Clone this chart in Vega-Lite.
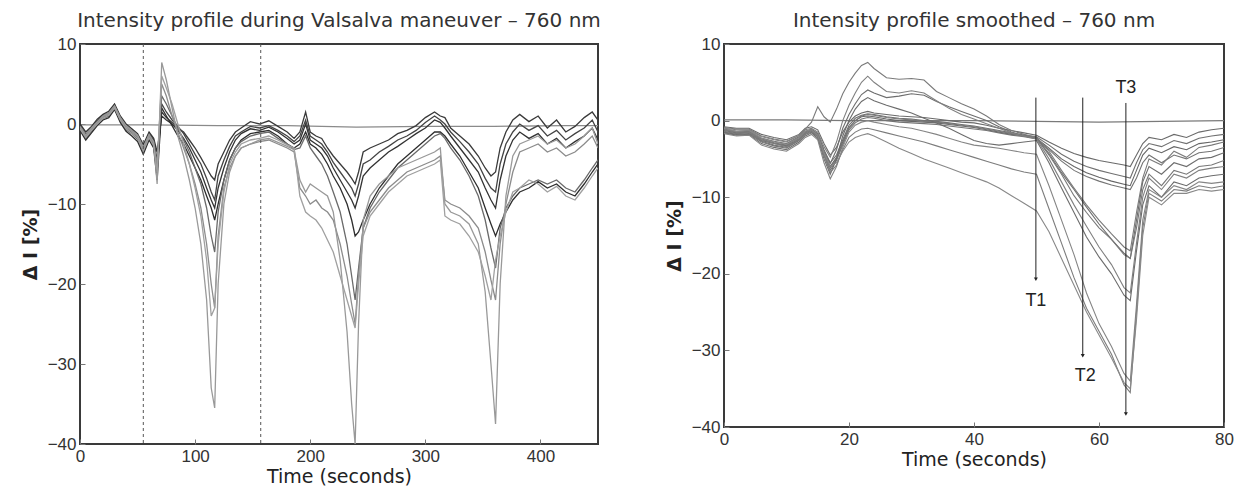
{
"$schema":"https://vega.github.io/schema/vega-lite/v6.json",
"background":"white",
"padding":{"left":20,"top":10,"right":5,"bottom":3},
"spacing":62,
"config":{
"view":{"stroke":"#3a3a3a","strokeWidth":2},
"axis":{"domain":false,"grid":false,"labelFont":"Liberation Sans","labelFontSize":17,"labelColor":"#333","titleFont":"DejaVu Sans","titleFontSize":19,"titleFontWeight":"normal","titleColor":"#222","tickColor":"#777","tickSize":-5,"labelPadding":9,"labelFlush":false,"labelOverlap":false},
"title":{"font":"DejaVu Sans","fontSize":20,"fontWeight":"normal","color":"#333","offset":4}
},
"resolve":{"scale":{"color":"independent","x":"independent","y":"independent"}},
"datasets":{
"D":[{"t":55},{"t":157}],
"Tl":[{"lab":"T1","t":49.9,"v":3,"v2":-20.7},{"lab":"T2","t":57.4,"v":3,"v2":-30.7},{"lab":"T3","t":64.3,"v":2.3,"v2":-38.3}],
"Ta":[{"t":49.9,"v":-20.7},{"t":57.4,"v":-30.7},{"t":64.3,"v":-38.3}],
"Tt":[{"lab":"T1","t":49.9,"v":-23.6},{"lab":"T2","t":57.8,"v":-33.4},{"lab":"T3","t":64.3,"v":4.2}],
"L":[
{"s":"z","t":0,"v":-0.1},{"s":"z","t":60,"v":-0.1},{"s":"z","t":120,"v":-0.2},{"s":"z","t":180,"v":-0.2},{"s":"z","t":240,"v":-0.4},{"s":"z","t":300,"v":-0.3},{"s":"z","t":360,"v":-0.3},{"s":"z","t":420,"v":-0.2},{"s":"z","t":450,"v":-0.2},
{"s":"a","t":0,"v":-0.2},{"s":"a","t":5,"v":-1.3},{"s":"a","t":10,"v":-0.5},{"s":"a","t":15,"v":0.4},{"s":"a","t":20,"v":1.0},{"s":"a","t":25,"v":1.4},{"s":"a","t":30,"v":2.4},{"s":"a","t":35,"v":0.8},{"s":"a","t":40,"v":-0.2},{"s":"a","t":45,"v":-0.8},{"s":"a","t":50,"v":-1.4},{"s":"a","t":55,"v":-2.8},{"s":"a","t":60,"v":-1.2},{"s":"a","t":64,"v":-2.0},{"s":"a","t":67,"v":-4.5},{"s":"a","t":71,"v":1.5},{"s":"a","t":75,"v":0.8},{"s":"a","t":80,"v":0.2},{"s":"a","t":85,"v":-0.5},{"s":"a","t":90,"v":-1.0},{"s":"a","t":95,"v":-2.0},{"s":"a","t":100,"v":-3.0},{"s":"a","t":105,"v":-4.2},{"s":"a","t":110,"v":-5.5},{"s":"a","t":114,"v":-6.5},{"s":"a","t":117,"v":-7.0},{"s":"a","t":120,"v":-5.0},{"s":"a","t":125,"v":-3.5},{"s":"a","t":130,"v":-2.0},{"s":"a","t":135,"v":-1.0},{"s":"a","t":140,"v":-0.5},{"s":"a","t":148,"v":0.3},{"s":"a","t":156,"v":0.0},{"s":"a","t":164,"v":0.4},{"s":"a","t":172,"v":-0.3},{"s":"a","t":180,"v":-1.0},{"s":"a","t":186,"v":-1.8},{"s":"a","t":191,"v":-1.0},{"s":"a","t":196,"v":1.5},{"s":"a","t":200,"v":-1.0},{"s":"a","t":205,"v":-1.5},{"s":"a","t":210,"v":-1.8},{"s":"a","t":215,"v":-3.0},{"s":"a","t":220,"v":-4.0},{"s":"a","t":226,"v":-5.0},{"s":"a","t":232,"v":-6.0},{"s":"a","t":236,"v":-6.8},{"s":"a","t":239,"v":-7.5},{"s":"a","t":242,"v":-6.0},{"s":"a","t":246,"v":-3.5},{"s":"a","t":252,"v":-3.0},{"s":"a","t":260,"v":-2.5},{"s":"a","t":268,"v":-2.0},{"s":"a","t":276,"v":-1.2},{"s":"a","t":284,"v":-0.8},{"s":"a","t":292,"v":-0.2},{"s":"a","t":300,"v":0.8},{"s":"a","t":308,"v":1.5},{"s":"a","t":313,"v":1.0},{"s":"a","t":317,"v":0.8},{"s":"a","t":322,"v":-0.5},{"s":"a","t":330,"v":-1.5},{"s":"a","t":338,"v":-2.5},{"s":"a","t":346,"v":-4.0},{"s":"a","t":352,"v":-5.5},{"s":"a","t":357,"v":-6.5},{"s":"a","t":361,"v":-6.0},{"s":"a","t":365,"v":-3.0},{"s":"a","t":370,"v":-1.0},{"s":"a","t":376,"v":0.5},{"s":"a","t":382,"v":1.2},{"s":"a","t":390,"v":0.3},{"s":"a","t":398,"v":1.0},{"s":"a","t":406,"v":-0.5},{"s":"a","t":414,"v":0.5},{"s":"a","t":422,"v":-1.0},{"s":"a","t":430,"v":-0.3},{"s":"a","t":438,"v":0.8},{"s":"a","t":445,"v":1.5},{"s":"a","t":450,"v":0.5},
{"s":"b","t":0,"v":-0.6},{"s":"b","t":5,"v":-1.8},{"s":"b","t":10,"v":-0.9},{"s":"b","t":15,"v":0.0},{"s":"b","t":20,"v":0.7},{"s":"b","t":25,"v":1.0},{"s":"b","t":30,"v":2.0},{"s":"b","t":35,"v":0.4},{"s":"b","t":40,"v":-0.7},{"s":"b","t":45,"v":-1.2},{"s":"b","t":50,"v":-1.9},{"s":"b","t":55,"v":-3.5},{"s":"b","t":60,"v":-1.8},{"s":"b","t":64,"v":-2.8},{"s":"b","t":67,"v":-6.0},{"s":"b","t":71,"v":2.5},{"s":"b","t":75,"v":1.5},{"s":"b","t":80,"v":0.5},{"s":"b","t":85,"v":-0.3},{"s":"b","t":90,"v":-1.2},{"s":"b","t":95,"v":-2.5},{"s":"b","t":100,"v":-3.8},{"s":"b","t":105,"v":-5.0},{"s":"b","t":110,"v":-6.8},{"s":"b","t":114,"v":-8.5},{"s":"b","t":117,"v":-9.5},{"s":"b","t":120,"v":-6.5},{"s":"b","t":125,"v":-4.5},{"s":"b","t":130,"v":-2.8},{"s":"b","t":135,"v":-1.5},{"s":"b","t":140,"v":-1.0},{"s":"b","t":148,"v":-0.3},{"s":"b","t":156,"v":-0.5},{"s":"b","t":164,"v":-0.2},{"s":"b","t":172,"v":-0.8},{"s":"b","t":180,"v":-1.5},{"s":"b","t":186,"v":-2.2},{"s":"b","t":191,"v":-1.5},{"s":"b","t":196,"v":0.5},{"s":"b","t":200,"v":-1.5},{"s":"b","t":205,"v":-2.0},{"s":"b","t":210,"v":-2.5},{"s":"b","t":215,"v":-3.5},{"s":"b","t":220,"v":-4.8},{"s":"b","t":226,"v":-6.0},{"s":"b","t":232,"v":-7.2},{"s":"b","t":236,"v":-8.0},{"s":"b","t":239,"v":-9.0},{"s":"b","t":242,"v":-7.5},{"s":"b","t":246,"v":-5.0},{"s":"b","t":252,"v":-4.5},{"s":"b","t":260,"v":-3.5},{"s":"b","t":268,"v":-2.8},{"s":"b","t":276,"v":-2.0},{"s":"b","t":284,"v":-1.5},{"s":"b","t":292,"v":-0.8},{"s":"b","t":300,"v":0.2},{"s":"b","t":308,"v":1.0},{"s":"b","t":313,"v":0.5},{"s":"b","t":317,"v":0.0},{"s":"b","t":322,"v":-1.0},{"s":"b","t":330,"v":-2.2},{"s":"b","t":338,"v":-3.5},{"s":"b","t":346,"v":-5.0},{"s":"b","t":352,"v":-6.8},{"s":"b","t":357,"v":-8.0},{"s":"b","t":361,"v":-8.5},{"s":"b","t":365,"v":-5.0},{"s":"b","t":370,"v":-2.5},{"s":"b","t":376,"v":-1.0},{"s":"b","t":382,"v":0.0},{"s":"b","t":390,"v":-0.8},{"s":"b","t":398,"v":-0.2},{"s":"b","t":406,"v":-1.5},{"s":"b","t":414,"v":-0.8},{"s":"b","t":422,"v":-2.0},{"s":"b","t":430,"v":-1.2},{"s":"b","t":438,"v":-0.5},{"s":"b","t":445,"v":0.5},{"s":"b","t":450,"v":-1.0},
{"s":"c","t":0,"v":0.0},{"s":"c","t":5,"v":-1.0},{"s":"c","t":10,"v":-0.3},{"s":"c","t":15,"v":0.6},{"s":"c","t":20,"v":1.2},{"s":"c","t":25,"v":1.6},{"s":"c","t":30,"v":2.5},{"s":"c","t":35,"v":1.0},{"s":"c","t":40,"v":0.0},{"s":"c","t":45,"v":-0.6},{"s":"c","t":50,"v":-1.2},{"s":"c","t":55,"v":-2.6},{"s":"c","t":60,"v":-1.0},{"s":"c","t":64,"v":-1.8},{"s":"c","t":67,"v":-3.5},{"s":"c","t":71,"v":1.0},{"s":"c","t":75,"v":0.5},{"s":"c","t":80,"v":0.0},{"s":"c","t":85,"v":-0.8},{"s":"c","t":90,"v":-1.8},{"s":"c","t":95,"v":-3.0},{"s":"c","t":100,"v":-4.5},{"s":"c","t":105,"v":-6.0},{"s":"c","t":110,"v":-8.0},{"s":"c","t":114,"v":-9.5},{"s":"c","t":117,"v":-10.5},{"s":"c","t":120,"v":-8.0},{"s":"c","t":125,"v":-5.5},{"s":"c","t":130,"v":-3.5},{"s":"c","t":135,"v":-2.0},{"s":"c","t":140,"v":-1.2},{"s":"c","t":148,"v":-0.6},{"s":"c","t":156,"v":-0.8},{"s":"c","t":164,"v":-0.4},{"s":"c","t":172,"v":-1.0},{"s":"c","t":180,"v":-1.8},{"s":"c","t":186,"v":-2.5},{"s":"c","t":191,"v":-2.0},{"s":"c","t":196,"v":0.0},{"s":"c","t":200,"v":-2.0},{"s":"c","t":205,"v":-2.5},{"s":"c","t":210,"v":-3.0},{"s":"c","t":215,"v":-4.0},{"s":"c","t":220,"v":-5.5},{"s":"c","t":226,"v":-7.0},{"s":"c","t":232,"v":-8.5},{"s":"c","t":236,"v":-9.5},{"s":"c","t":239,"v":-10.5},{"s":"c","t":242,"v":-9.0},{"s":"c","t":246,"v":-6.5},{"s":"c","t":252,"v":-5.5},{"s":"c","t":260,"v":-4.5},{"s":"c","t":268,"v":-3.5},{"s":"c","t":276,"v":-2.8},{"s":"c","t":284,"v":-2.0},{"s":"c","t":292,"v":-1.2},{"s":"c","t":300,"v":-0.5},{"s":"c","t":308,"v":0.5},{"s":"c","t":313,"v":0.2},{"s":"c","t":317,"v":-0.5},{"s":"c","t":322,"v":-1.5},{"s":"c","t":330,"v":-3.0},{"s":"c","t":338,"v":-4.5},{"s":"c","t":346,"v":-6.0},{"s":"c","t":352,"v":-8.0},{"s":"c","t":357,"v":-9.5},{"s":"c","t":361,"v":-10.5},{"s":"c","t":365,"v":-7.0},{"s":"c","t":370,"v":-4.0},{"s":"c","t":376,"v":-2.0},{"s":"c","t":382,"v":-1.0},{"s":"c","t":390,"v":-1.8},{"s":"c","t":398,"v":-1.2},{"s":"c","t":406,"v":-2.5},{"s":"c","t":414,"v":-1.8},{"s":"c","t":422,"v":-3.0},{"s":"c","t":430,"v":-2.2},{"s":"c","t":438,"v":-1.5},{"s":"c","t":445,"v":-0.5},{"s":"c","t":450,"v":-2.0},
{"s":"d","t":0,"v":-0.8},{"s":"d","t":5,"v":-2.0},{"s":"d","t":10,"v":-1.1},{"s":"d","t":15,"v":-0.2},{"s":"d","t":20,"v":0.5},{"s":"d","t":25,"v":0.8},{"s":"d","t":30,"v":1.8},{"s":"d","t":35,"v":0.2},{"s":"d","t":40,"v":-0.9},{"s":"d","t":45,"v":-1.5},{"s":"d","t":50,"v":-2.2},{"s":"d","t":55,"v":-3.8},{"s":"d","t":60,"v":-2.0},{"s":"d","t":64,"v":-3.0},{"s":"d","t":67,"v":-7.0},{"s":"d","t":71,"v":2.0},{"s":"d","t":75,"v":1.0},{"s":"d","t":80,"v":-0.2},{"s":"d","t":85,"v":-1.5},{"s":"d","t":90,"v":-2.5},{"s":"d","t":95,"v":-4.0},{"s":"d","t":100,"v":-5.5},{"s":"d","t":105,"v":-7.0},{"s":"d","t":110,"v":-9.0},{"s":"d","t":114,"v":-10.5},{"s":"d","t":117,"v":-12.0},{"s":"d","t":120,"v":-10.0},{"s":"d","t":125,"v":-7.0},{"s":"d","t":130,"v":-4.5},{"s":"d","t":135,"v":-3.0},{"s":"d","t":140,"v":-2.0},{"s":"d","t":148,"v":-1.2},{"s":"d","t":156,"v":-1.0},{"s":"d","t":164,"v":-0.8},{"s":"d","t":172,"v":-1.5},{"s":"d","t":180,"v":-2.5},{"s":"d","t":186,"v":-3.0},{"s":"d","t":191,"v":-2.5},{"s":"d","t":196,"v":-1.0},{"s":"d","t":200,"v":-2.5},{"s":"d","t":205,"v":-3.0},{"s":"d","t":210,"v":-3.8},{"s":"d","t":215,"v":-5.0},{"s":"d","t":220,"v":-6.5},{"s":"d","t":226,"v":-8.0},{"s":"d","t":232,"v":-10.0},{"s":"d","t":236,"v":-12.0},{"s":"d","t":239,"v":-14.0},{"s":"d","t":242,"v":-13.5},{"s":"d","t":246,"v":-12.0},{"s":"d","t":252,"v":-10.0},{"s":"d","t":260,"v":-8.0},{"s":"d","t":268,"v":-6.5},{"s":"d","t":276,"v":-5.0},{"s":"d","t":284,"v":-4.0},{"s":"d","t":292,"v":-3.0},{"s":"d","t":300,"v":-2.0},{"s":"d","t":308,"v":-1.0},{"s":"d","t":313,"v":-1.0},{"s":"d","t":317,"v":-1.5},{"s":"d","t":322,"v":-2.5},{"s":"d","t":330,"v":-4.0},{"s":"d","t":338,"v":-6.0},{"s":"d","t":346,"v":-8.0},{"s":"d","t":352,"v":-10.5},{"s":"d","t":357,"v":-12.5},{"s":"d","t":361,"v":-14.0},{"s":"d","t":365,"v":-12.5},{"s":"d","t":370,"v":-11.0},{"s":"d","t":376,"v":-9.5},{"s":"d","t":382,"v":-8.5},{"s":"d","t":390,"v":-8.0},{"s":"d","t":398,"v":-7.2},{"s":"d","t":406,"v":-8.0},{"s":"d","t":414,"v":-7.5},{"s":"d","t":422,"v":-8.5},{"s":"d","t":430,"v":-9.0},{"s":"d","t":438,"v":-7.5},{"s":"d","t":445,"v":-6.0},{"s":"d","t":450,"v":-5.0},
{"s":"e","t":0,"v":-0.5},{"s":"e","t":5,"v":-1.6},{"s":"e","t":10,"v":-0.7},{"s":"e","t":15,"v":0.1},{"s":"e","t":20,"v":0.8},{"s":"e","t":25,"v":1.1},{"s":"e","t":30,"v":2.1},{"s":"e","t":35,"v":0.5},{"s":"e","t":40,"v":-0.5},{"s":"e","t":45,"v":-1.1},{"s":"e","t":50,"v":-1.7},{"s":"e","t":55,"v":-3.3},{"s":"e","t":60,"v":-1.6},{"s":"e","t":64,"v":-2.6},{"s":"e","t":67,"v":-5.5},{"s":"e","t":71,"v":3.5},{"s":"e","t":75,"v":2.5},{"s":"e","t":80,"v":1.0},{"s":"e","t":85,"v":-0.5},{"s":"e","t":90,"v":-2.0},{"s":"e","t":95,"v":-3.5},{"s":"e","t":100,"v":-5.5},{"s":"e","t":105,"v":-7.5},{"s":"e","t":110,"v":-10.5},{"s":"e","t":114,"v":-14.0},{"s":"e","t":117,"v":-16.0},{"s":"e","t":120,"v":-11.0},{"s":"e","t":125,"v":-7.0},{"s":"e","t":130,"v":-4.5},{"s":"e","t":135,"v":-3.0},{"s":"e","t":140,"v":-2.2},{"s":"e","t":148,"v":-1.5},{"s":"e","t":156,"v":-1.2},{"s":"e","t":164,"v":-1.0},{"s":"e","t":172,"v":-1.8},{"s":"e","t":180,"v":-2.5},{"s":"e","t":186,"v":-3.2},{"s":"e","t":191,"v":-3.0},{"s":"e","t":196,"v":-1.5},{"s":"e","t":200,"v":-3.0},{"s":"e","t":205,"v":-4.0},{"s":"e","t":210,"v":-5.0},{"s":"e","t":215,"v":-6.5},{"s":"e","t":220,"v":-8.5},{"s":"e","t":226,"v":-11.0},{"s":"e","t":232,"v":-15.0},{"s":"e","t":236,"v":-19.0},{"s":"e","t":239,"v":-22.0},{"s":"e","t":242,"v":-18.0},{"s":"e","t":246,"v":-13.0},{"s":"e","t":252,"v":-10.5},{"s":"e","t":260,"v":-8.5},{"s":"e","t":268,"v":-7.0},{"s":"e","t":276,"v":-5.5},{"s":"e","t":284,"v":-4.5},{"s":"e","t":292,"v":-3.5},{"s":"e","t":300,"v":-2.5},{"s":"e","t":308,"v":-1.5},{"s":"e","t":313,"v":-1.2},{"s":"e","t":317,"v":-1.8},{"s":"e","t":322,"v":-3.0},{"s":"e","t":330,"v":-4.5},{"s":"e","t":338,"v":-6.5},{"s":"e","t":346,"v":-9.0},{"s":"e","t":352,"v":-12.0},{"s":"e","t":357,"v":-15.5},{"s":"e","t":361,"v":-18.0},{"s":"e","t":365,"v":-13.0},{"s":"e","t":370,"v":-10.5},{"s":"e","t":376,"v":-9.0},{"s":"e","t":382,"v":-8.0},{"s":"e","t":390,"v":-7.5},{"s":"e","t":398,"v":-7.0},{"s":"e","t":406,"v":-7.5},{"s":"e","t":414,"v":-7.0},{"s":"e","t":422,"v":-8.0},{"s":"e","t":430,"v":-8.5},{"s":"e","t":438,"v":-7.0},{"s":"e","t":445,"v":-5.5},{"s":"e","t":450,"v":-4.5},
{"s":"f","t":0,"v":-0.4},{"s":"f","t":5,"v":-1.5},{"s":"f","t":10,"v":-0.6},{"s":"f","t":15,"v":0.2},{"s":"f","t":20,"v":0.9},{"s":"f","t":25,"v":1.3},{"s":"f","t":30,"v":2.2},{"s":"f","t":35,"v":0.7},{"s":"f","t":40,"v":-0.3},{"s":"f","t":45,"v":-0.9},{"s":"f","t":50,"v":-1.5},{"s":"f","t":55,"v":-3.0},{"s":"f","t":60,"v":-1.4},{"s":"f","t":64,"v":-2.4},{"s":"f","t":67,"v":-5.0},{"s":"f","t":71,"v":5.0},{"s":"f","t":75,"v":3.5},{"s":"f","t":80,"v":1.0},{"s":"f","t":85,"v":-1.0},{"s":"f","t":90,"v":-3.0},{"s":"f","t":95,"v":-5.0},{"s":"f","t":100,"v":-7.5},{"s":"f","t":105,"v":-10.5},{"s":"f","t":110,"v":-15.0},{"s":"f","t":114,"v":-20.0},{"s":"f","t":117,"v":-23.0},{"s":"f","t":120,"v":-14.0},{"s":"f","t":125,"v":-8.0},{"s":"f","t":130,"v":-5.5},{"s":"f","t":135,"v":-4.0},{"s":"f","t":140,"v":-3.0},{"s":"f","t":148,"v":-2.5},{"s":"f","t":156,"v":-2.2},{"s":"f","t":164,"v":-2.0},{"s":"f","t":172,"v":-2.5},{"s":"f","t":180,"v":-3.0},{"s":"f","t":186,"v":-3.5},{"s":"f","t":191,"v":-8.0},{"s":"f","t":196,"v":-9.0},{"s":"f","t":200,"v":-10.0},{"s":"f","t":205,"v":-9.5},{"s":"f","t":210,"v":-10.5},{"s":"f","t":215,"v":-11.0},{"s":"f","t":220,"v":-12.0},{"s":"f","t":226,"v":-15.0},{"s":"f","t":232,"v":-19.0},{"s":"f","t":236,"v":-22.5},{"s":"f","t":239,"v":-25.0},{"s":"f","t":242,"v":-19.0},{"s":"f","t":246,"v":-13.0},{"s":"f","t":252,"v":-11.0},{"s":"f","t":260,"v":-9.5},{"s":"f","t":268,"v":-8.0},{"s":"f","t":276,"v":-7.0},{"s":"f","t":284,"v":-6.0},{"s":"f","t":292,"v":-5.5},{"s":"f","t":300,"v":-5.0},{"s":"f","t":308,"v":-4.5},{"s":"f","t":313,"v":-4.0},{"s":"f","t":317,"v":-9.5},{"s":"f","t":322,"v":-10.0},{"s":"f","t":330,"v":-10.5},{"s":"f","t":338,"v":-11.5},{"s":"f","t":346,"v":-13.0},{"s":"f","t":352,"v":-16.0},{"s":"f","t":357,"v":-19.5},{"s":"f","t":361,"v":-22.0},{"s":"f","t":365,"v":-15.0},{"s":"f","t":370,"v":-10.0},{"s":"f","t":376,"v":-6.0},{"s":"f","t":382,"v":-3.5},{"s":"f","t":390,"v":-3.0},{"s":"f","t":398,"v":-2.5},{"s":"f","t":406,"v":-3.5},{"s":"f","t":414,"v":-3.0},{"s":"f","t":422,"v":-4.0},{"s":"f","t":430,"v":-3.5},{"s":"f","t":438,"v":-2.5},{"s":"f","t":445,"v":-1.5},{"s":"f","t":450,"v":-3.0},
{"s":"g","t":0,"v":-0.3},{"s":"g","t":5,"v":-1.4},{"s":"g","t":10,"v":-0.5},{"s":"g","t":15,"v":0.3},{"s":"g","t":20,"v":1.0},{"s":"g","t":25,"v":1.4},{"s":"g","t":30,"v":2.3},{"s":"g","t":35,"v":0.8},{"s":"g","t":40,"v":-0.2},{"s":"g","t":45,"v":-0.8},{"s":"g","t":50,"v":-1.4},{"s":"g","t":55,"v":-2.9},{"s":"g","t":60,"v":-1.3},{"s":"g","t":64,"v":-2.2},{"s":"g","t":67,"v":-7.5},{"s":"g","t":71,"v":7.7},{"s":"g","t":75,"v":5.5},{"s":"g","t":80,"v":2.0},{"s":"g","t":85,"v":-1.5},{"s":"g","t":90,"v":-4.0},{"s":"g","t":95,"v":-7.0},{"s":"g","t":100,"v":-10.5},{"s":"g","t":105,"v":-15.0},{"s":"g","t":110,"v":-22.0},{"s":"g","t":114,"v":-33.0},{"s":"g","t":117,"v":-35.5},{"s":"g","t":120,"v":-20.0},{"s":"g","t":125,"v":-10.0},{"s":"g","t":130,"v":-6.0},{"s":"g","t":135,"v":-4.0},{"s":"g","t":140,"v":-3.0},{"s":"g","t":148,"v":-2.5},{"s":"g","t":156,"v":-2.0},{"s":"g","t":164,"v":-1.8},{"s":"g","t":172,"v":-2.3},{"s":"g","t":180,"v":-2.8},{"s":"g","t":186,"v":-3.2},{"s":"g","t":191,"v":-7.0},{"s":"g","t":196,"v":-8.5},{"s":"g","t":200,"v":-7.5},{"s":"g","t":205,"v":-8.0},{"s":"g","t":210,"v":-8.5},{"s":"g","t":215,"v":-9.0},{"s":"g","t":220,"v":-11.0},{"s":"g","t":226,"v":-17.0},{"s":"g","t":232,"v":-26.0},{"s":"g","t":236,"v":-35.0},{"s":"g","t":239,"v":-40.0},{"s":"g","t":242,"v":-25.0},{"s":"g","t":246,"v":-12.0},{"s":"g","t":252,"v":-9.0},{"s":"g","t":260,"v":-7.5},{"s":"g","t":268,"v":-6.5},{"s":"g","t":276,"v":-5.5},{"s":"g","t":284,"v":-5.0},{"s":"g","t":292,"v":-4.5},{"s":"g","t":300,"v":-4.0},{"s":"g","t":308,"v":-3.5},{"s":"g","t":313,"v":-3.0},{"s":"g","t":317,"v":-10.0},{"s":"g","t":322,"v":-11.0},{"s":"g","t":330,"v":-11.5},{"s":"g","t":338,"v":-12.5},{"s":"g","t":346,"v":-15.0},{"s":"g","t":352,"v":-21.0},{"s":"g","t":357,"v":-30.0},{"s":"g","t":361,"v":-37.5},{"s":"g","t":365,"v":-20.0},{"s":"g","t":370,"v":-9.0},{"s":"g","t":376,"v":-4.0},{"s":"g","t":382,"v":-2.5},{"s":"g","t":390,"v":-2.0},{"s":"g","t":398,"v":-1.5},{"s":"g","t":406,"v":-2.5},{"s":"g","t":414,"v":-2.0},{"s":"g","t":422,"v":-3.0},{"s":"g","t":430,"v":-2.5},{"s":"g","t":438,"v":-1.5},{"s":"g","t":445,"v":-0.5},{"s":"g","t":450,"v":-2.5},
{"s":"h","t":0,"v":-0.6},{"s":"h","t":5,"v":-1.7},{"s":"h","t":10,"v":-0.8},{"s":"h","t":15,"v":0.0},{"s":"h","t":20,"v":0.7},{"s":"h","t":25,"v":1.1},{"s":"h","t":30,"v":2.0},{"s":"h","t":35,"v":0.5},{"s":"h","t":40,"v":-0.6},{"s":"h","t":45,"v":-1.2},{"s":"h","t":50,"v":-1.8},{"s":"h","t":55,"v":-3.4},{"s":"h","t":60,"v":-1.7},{"s":"h","t":64,"v":-2.7},{"s":"h","t":67,"v":-6.0},{"s":"h","t":71,"v":6.0},{"s":"h","t":75,"v":4.5},{"s":"h","t":80,"v":2.5},{"s":"h","t":85,"v":0.0},{"s":"h","t":90,"v":-2.5},{"s":"h","t":95,"v":-5.0},{"s":"h","t":100,"v":-8.0},{"s":"h","t":105,"v":-11.5},{"s":"h","t":110,"v":-17.0},{"s":"h","t":114,"v":-24.0},{"s":"h","t":117,"v":-23.0},{"s":"h","t":120,"v":-15.0},{"s":"h","t":125,"v":-8.5},{"s":"h","t":130,"v":-5.0},{"s":"h","t":135,"v":-3.5},{"s":"h","t":140,"v":-2.5},{"s":"h","t":148,"v":-2.0},{"s":"h","t":156,"v":-1.8},{"s":"h","t":164,"v":-1.5},{"s":"h","t":172,"v":-2.0},{"s":"h","t":180,"v":-2.6},{"s":"h","t":186,"v":-3.0},{"s":"h","t":191,"v":-9.0},{"s":"h","t":196,"v":-11.0},{"s":"h","t":200,"v":-11.5},{"s":"h","t":205,"v":-12.0},{"s":"h","t":210,"v":-13.0},{"s":"h","t":215,"v":-14.5},{"s":"h","t":220,"v":-16.0},{"s":"h","t":226,"v":-19.0},{"s":"h","t":232,"v":-22.0},{"s":"h","t":236,"v":-24.0},{"s":"h","t":239,"v":-25.5},{"s":"h","t":242,"v":-20.0},{"s":"h","t":246,"v":-14.0},{"s":"h","t":252,"v":-11.5},{"s":"h","t":260,"v":-10.0},{"s":"h","t":268,"v":-8.5},{"s":"h","t":276,"v":-7.5},{"s":"h","t":284,"v":-6.5},{"s":"h","t":292,"v":-6.0},{"s":"h","t":300,"v":-5.5},{"s":"h","t":308,"v":-5.0},{"s":"h","t":313,"v":-4.5},{"s":"h","t":317,"v":-11.5},{"s":"h","t":322,"v":-12.0},{"s":"h","t":330,"v":-12.5},{"s":"h","t":338,"v":-14.0},{"s":"h","t":346,"v":-16.0},{"s":"h","t":352,"v":-19.0},{"s":"h","t":357,"v":-22.0},{"s":"h","t":361,"v":-17.0},{"s":"h","t":365,"v":-14.0},{"s":"h","t":370,"v":-11.0},{"s":"h","t":376,"v":-8.5},{"s":"h","t":382,"v":-8.0},{"s":"h","t":390,"v":-7.0},{"s":"h","t":398,"v":-7.5},{"s":"h","t":406,"v":-8.5},{"s":"h","t":414,"v":-7.8},{"s":"h","t":422,"v":-9.0},{"s":"h","t":430,"v":-9.5},{"s":"h","t":438,"v":-8.0},{"s":"h","t":445,"v":-6.5},{"s":"h","t":450,"v":-5.5}
],
"R":[
{"s":"z","t":0,"v":0.1},{"s":"z","t":10,"v":0.1},{"s":"z","t":20,"v":0.0},{"s":"z","t":30,"v":0.0},{"s":"z","t":40,"v":0.0},{"s":"z","t":50,"v":-0.1},{"s":"z","t":60,"v":-0.2},{"s":"z","t":70,"v":-0.1},{"s":"z","t":80,"v":0.0},
{"s":"a","t":0,"v":-0.8},{"s":"a","t":2,"v":-1.0},{"s":"a","t":4,"v":-1.0},{"s":"a","t":6,"v":-1.8},{"s":"a","t":8,"v":-2.2},{"s":"a","t":10,"v":-2.5},{"s":"a","t":12,"v":-1.8},{"s":"a","t":13,"v":-1.0},{"s":"a","t":14,"v":-0.8},{"s":"a","t":15,"v":-1.2},{"s":"a","t":16,"v":-3.0},{"s":"a","t":17,"v":-4.5},{"s":"a","t":18,"v":-3.5},{"s":"a","t":19,"v":-1.5},{"s":"a","t":20,"v":-0.2},{"s":"a","t":21,"v":0.6},{"s":"a","t":22,"v":1.0},{"s":"a","t":23,"v":1.2},{"s":"a","t":24,"v":1.0},{"s":"a","t":26,"v":0.8},{"s":"a","t":28,"v":0.6},{"s":"a","t":30,"v":0.5},{"s":"a","t":32,"v":0.4},{"s":"a","t":34,"v":0.2},{"s":"a","t":36,"v":0.0},{"s":"a","t":38,"v":-0.2},{"s":"a","t":40,"v":-0.3},{"s":"a","t":42,"v":-0.6},{"s":"a","t":44,"v":-1.0},{"s":"a","t":46,"v":-1.3},{"s":"a","t":48,"v":-1.6},{"s":"a","t":50,"v":-1.9},{"s":"a","t":52,"v":-2.8},{"s":"a","t":54,"v":-3.6},{"s":"a","t":56,"v":-4.3},{"s":"a","t":58,"v":-4.8},{"s":"a","t":60,"v":-5.2},{"s":"a","t":62,"v":-5.5},{"s":"a","t":64,"v":-5.8},{"s":"a","t":65,"v":-6.0},{"s":"a","t":66,"v":-4.5},{"s":"a","t":67,"v":-3.0},{"s":"a","t":68,"v":-2.2},{"s":"a","t":70,"v":-2.5},{"s":"a","t":72,"v":-1.8},{"s":"a","t":74,"v":-2.2},{"s":"a","t":76,"v":-1.5},{"s":"a","t":78,"v":-1.2},{"s":"a","t":80,"v":-1.0},
{"s":"b","t":0,"v":-1.1},{"s":"b","t":2,"v":-1.4},{"s":"b","t":4,"v":-1.3},{"s":"b","t":6,"v":-2.3},{"s":"b","t":8,"v":-2.7},{"s":"b","t":10,"v":-3.0},{"s":"b","t":12,"v":-2.1},{"s":"b","t":13,"v":-1.4},{"s":"b","t":14,"v":-1.1},{"s":"b","t":15,"v":-1.7},{"s":"b","t":16,"v":-3.8},{"s":"b","t":17,"v":-5.5},{"s":"b","t":18,"v":-4.5},{"s":"b","t":19,"v":-2.5},{"s":"b","t":20,"v":-0.6},{"s":"b","t":21,"v":0.3},{"s":"b","t":22,"v":0.7},{"s":"b","t":23,"v":0.9},{"s":"b","t":24,"v":0.8},{"s":"b","t":26,"v":0.5},{"s":"b","t":28,"v":0.3},{"s":"b","t":30,"v":0.2},{"s":"b","t":32,"v":0.0},{"s":"b","t":34,"v":-0.1},{"s":"b","t":36,"v":-0.3},{"s":"b","t":38,"v":-0.5},{"s":"b","t":40,"v":-0.7},{"s":"b","t":42,"v":-1.0},{"s":"b","t":44,"v":-1.3},{"s":"b","t":46,"v":-1.6},{"s":"b","t":48,"v":-1.9},{"s":"b","t":50,"v":-2.1},{"s":"b","t":52,"v":-3.2},{"s":"b","t":54,"v":-4.4},{"s":"b","t":56,"v":-5.3},{"s":"b","t":58,"v":-6.0},{"s":"b","t":60,"v":-6.5},{"s":"b","t":62,"v":-6.9},{"s":"b","t":64,"v":-7.3},{"s":"b","t":65,"v":-7.5},{"s":"b","t":66,"v":-5.5},{"s":"b","t":67,"v":-3.8},{"s":"b","t":68,"v":-3.0},{"s":"b","t":70,"v":-3.4},{"s":"b","t":72,"v":-2.6},{"s":"b","t":74,"v":-3.0},{"s":"b","t":76,"v":-2.3},{"s":"b","t":78,"v":-2.0},{"s":"b","t":80,"v":-1.8},
{"s":"c","t":0,"v":-1.3},{"s":"c","t":2,"v":-1.6},{"s":"c","t":4,"v":-1.5},{"s":"c","t":6,"v":-2.6},{"s":"c","t":8,"v":-3.0},{"s":"c","t":10,"v":-3.3},{"s":"c","t":12,"v":-2.4},{"s":"c","t":13,"v":-1.6},{"s":"c","t":14,"v":-1.3},{"s":"c","t":15,"v":-1.9},{"s":"c","t":16,"v":-4.2},{"s":"c","t":17,"v":-6.0},{"s":"c","t":18,"v":-4.8},{"s":"c","t":19,"v":-2.8},{"s":"c","t":20,"v":-0.9},{"s":"c","t":21,"v":0.0},{"s":"c","t":22,"v":0.5},{"s":"c","t":23,"v":0.6},{"s":"c","t":24,"v":0.5},{"s":"c","t":26,"v":0.2},{"s":"c","t":28,"v":0.0},{"s":"c","t":30,"v":-0.1},{"s":"c","t":32,"v":-0.2},{"s":"c","t":34,"v":-0.3},{"s":"c","t":36,"v":-0.5},{"s":"c","t":38,"v":-0.7},{"s":"c","t":40,"v":-0.9},{"s":"c","t":42,"v":-1.2},{"s":"c","t":44,"v":-1.5},{"s":"c","t":46,"v":-1.8},{"s":"c","t":48,"v":-2.0},{"s":"c","t":50,"v":-2.3},{"s":"c","t":52,"v":-3.6},{"s":"c","t":54,"v":-5.0},{"s":"c","t":56,"v":-6.0},{"s":"c","t":58,"v":-6.8},{"s":"c","t":60,"v":-7.4},{"s":"c","t":62,"v":-7.9},{"s":"c","t":64,"v":-8.3},{"s":"c","t":65,"v":-8.5},{"s":"c","t":66,"v":-6.5},{"s":"c","t":67,"v":-4.5},{"s":"c","t":68,"v":-3.6},{"s":"c","t":70,"v":-4.2},{"s":"c","t":72,"v":-3.4},{"s":"c","t":74,"v":-3.8},{"s":"c","t":76,"v":-3.0},{"s":"c","t":78,"v":-2.8},{"s":"c","t":80,"v":-2.5},
{"s":"d","t":0,"v":-1.5},{"s":"d","t":2,"v":-1.8},{"s":"d","t":4,"v":-1.7},{"s":"d","t":6,"v":-2.8},{"s":"d","t":8,"v":-3.3},{"s":"d","t":10,"v":-3.6},{"s":"d","t":12,"v":-2.6},{"s":"d","t":13,"v":-1.8},{"s":"d","t":14,"v":-1.5},{"s":"d","t":15,"v":-2.1},{"s":"d","t":16,"v":-4.6},{"s":"d","t":17,"v":-6.5},{"s":"d","t":18,"v":-5.2},{"s":"d","t":19,"v":-3.2},{"s":"d","t":20,"v":-1.2},{"s":"d","t":21,"v":-0.3},{"s":"d","t":22,"v":0.2},{"s":"d","t":23,"v":0.4},{"s":"d","t":24,"v":0.3},{"s":"d","t":26,"v":0.0},{"s":"d","t":28,"v":-0.2},{"s":"d","t":30,"v":-0.3},{"s":"d","t":32,"v":-0.4},{"s":"d","t":34,"v":-0.5},{"s":"d","t":36,"v":-0.7},{"s":"d","t":38,"v":-0.9},{"s":"d","t":40,"v":-1.1},{"s":"d","t":42,"v":-1.3},{"s":"d","t":44,"v":-1.6},{"s":"d","t":46,"v":-1.9},{"s":"d","t":48,"v":-2.1},{"s":"d","t":50,"v":-2.4},{"s":"d","t":52,"v":-3.8},{"s":"d","t":54,"v":-5.3},{"s":"d","t":56,"v":-6.5},{"s":"d","t":58,"v":-7.3},{"s":"d","t":60,"v":-7.9},{"s":"d","t":62,"v":-8.4},{"s":"d","t":64,"v":-8.8},{"s":"d","t":65,"v":-9.0},{"s":"d","t":66,"v":-7.5},{"s":"d","t":67,"v":-5.5},{"s":"d","t":68,"v":-4.5},{"s":"d","t":70,"v":-5.5},{"s":"d","t":72,"v":-4.5},{"s":"d","t":74,"v":-5.0},{"s":"d","t":76,"v":-4.2},{"s":"d","t":78,"v":-4.0},{"s":"d","t":80,"v":-3.5},
{"s":"e","t":0,"v":-0.9},{"s":"e","t":2,"v":-1.1},{"s":"e","t":4,"v":-1.1},{"s":"e","t":6,"v":-2.0},{"s":"e","t":8,"v":-2.4},{"s":"e","t":10,"v":-2.7},{"s":"e","t":12,"v":-1.9},{"s":"e","t":13,"v":-1.1},{"s":"e","t":14,"v":-0.2},{"s":"e","t":15,"v":1.8},{"s":"e","t":16,"v":0.5},{"s":"e","t":17,"v":-0.2},{"s":"e","t":18,"v":1.5},{"s":"e","t":19,"v":3.5},{"s":"e","t":20,"v":5.0},{"s":"e","t":21,"v":6.2},{"s":"e","t":22,"v":7.2},{"s":"e","t":23,"v":7.6},{"s":"e","t":24,"v":6.8},{"s":"e","t":26,"v":5.6},{"s":"e","t":28,"v":5.4},{"s":"e","t":30,"v":5.5},{"s":"e","t":32,"v":5.3},{"s":"e","t":34,"v":3.8},{"s":"e","t":36,"v":3.0},{"s":"e","t":38,"v":2.2},{"s":"e","t":40,"v":1.5},{"s":"e","t":42,"v":0.6},{"s":"e","t":44,"v":-0.5},{"s":"e","t":46,"v":-1.3},{"s":"e","t":48,"v":-1.8},{"s":"e","t":50,"v":-2.2},{"s":"e","t":52,"v":-4.0},{"s":"e","t":54,"v":-6.5},{"s":"e","t":56,"v":-8.8},{"s":"e","t":58,"v":-11.0},{"s":"e","t":60,"v":-13.0},{"s":"e","t":62,"v":-14.8},{"s":"e","t":64,"v":-16.5},{"s":"e","t":65,"v":-17.0},{"s":"e","t":66,"v":-12.0},{"s":"e","t":67,"v":-7.5},{"s":"e","t":68,"v":-5.0},{"s":"e","t":70,"v":-5.8},{"s":"e","t":72,"v":-4.0},{"s":"e","t":74,"v":-4.8},{"s":"e","t":76,"v":-3.5},{"s":"e","t":78,"v":-3.2},{"s":"e","t":80,"v":-2.8},
{"s":"f","t":0,"v":-1.2},{"s":"f","t":2,"v":-1.5},{"s":"f","t":4,"v":-1.4},{"s":"f","t":6,"v":-2.4},{"s":"f","t":8,"v":-2.9},{"s":"f","t":10,"v":-3.2},{"s":"f","t":12,"v":-2.2},{"s":"f","t":13,"v":-1.5},{"s":"f","t":14,"v":-1.2},{"s":"f","t":15,"v":-1.8},{"s":"f","t":16,"v":-4.0},{"s":"f","t":17,"v":-5.6},{"s":"f","t":18,"v":-3.8},{"s":"f","t":19,"v":-1.0},{"s":"f","t":20,"v":0.8},{"s":"f","t":21,"v":2.2},{"s":"f","t":22,"v":3.4},{"s":"f","t":23,"v":4.0},{"s":"f","t":24,"v":3.6},{"s":"f","t":26,"v":3.0},{"s":"f","t":28,"v":3.2},{"s":"f","t":30,"v":3.5},{"s":"f","t":32,"v":3.3},{"s":"f","t":34,"v":2.5},{"s":"f","t":36,"v":1.8},{"s":"f","t":38,"v":1.2},{"s":"f","t":40,"v":0.6},{"s":"f","t":42,"v":0.0},{"s":"f","t":44,"v":-0.8},{"s":"f","t":46,"v":-1.5},{"s":"f","t":48,"v":-2.0},{"s":"f","t":50,"v":-2.3},{"s":"f","t":52,"v":-4.3},{"s":"f","t":54,"v":-6.8},{"s":"f","t":56,"v":-9.0},{"s":"f","t":58,"v":-11.3},{"s":"f","t":60,"v":-13.5},{"s":"f","t":62,"v":-15.5},{"s":"f","t":64,"v":-17.3},{"s":"f","t":65,"v":-18.0},{"s":"f","t":66,"v":-13.0},{"s":"f","t":67,"v":-8.0},{"s":"f","t":68,"v":-6.0},{"s":"f","t":70,"v":-7.0},{"s":"f","t":72,"v":-5.5},{"s":"f","t":74,"v":-6.0},{"s":"f","t":76,"v":-5.0},{"s":"f","t":78,"v":-4.8},{"s":"f","t":80,"v":-4.2},
{"s":"g","t":0,"v":-1.4},{"s":"g","t":2,"v":-1.7},{"s":"g","t":4,"v":-1.6},{"s":"g","t":6,"v":-2.7},{"s":"g","t":8,"v":-3.2},{"s":"g","t":10,"v":-3.5},{"s":"g","t":12,"v":-2.5},{"s":"g","t":13,"v":-1.7},{"s":"g","t":14,"v":-1.4},{"s":"g","t":15,"v":-2.0},{"s":"g","t":16,"v":-4.4},{"s":"g","t":17,"v":-6.2},{"s":"g","t":18,"v":-5.0},{"s":"g","t":19,"v":-3.0},{"s":"g","t":20,"v":-1.0},{"s":"g","t":21,"v":0.0},{"s":"g","t":22,"v":0.6},{"s":"g","t":23,"v":0.8},{"s":"g","t":24,"v":0.7},{"s":"g","t":26,"v":0.4},{"s":"g","t":28,"v":0.2},{"s":"g","t":30,"v":0.1},{"s":"g","t":32,"v":-0.1},{"s":"g","t":34,"v":-0.2},{"s":"g","t":36,"v":-0.4},{"s":"g","t":38,"v":-0.6},{"s":"g","t":40,"v":-0.8},{"s":"g","t":42,"v":-1.1},{"s":"g","t":44,"v":-1.4},{"s":"g","t":46,"v":-1.7},{"s":"g","t":48,"v":-2.0},{"s":"g","t":50,"v":-2.3},{"s":"g","t":52,"v":-4.5},{"s":"g","t":54,"v":-7.0},{"s":"g","t":56,"v":-9.8},{"s":"g","t":58,"v":-12.0},{"s":"g","t":60,"v":-14.0},{"s":"g","t":62,"v":-15.5},{"s":"g","t":64,"v":-17.5},{"s":"g","t":65,"v":-18.0},{"s":"g","t":66,"v":-14.0},{"s":"g","t":67,"v":-9.0},{"s":"g","t":68,"v":-7.0},{"s":"g","t":70,"v":-8.5},{"s":"g","t":72,"v":-6.5},{"s":"g","t":74,"v":-7.0},{"s":"g","t":76,"v":-6.0},{"s":"g","t":78,"v":-5.8},{"s":"g","t":80,"v":-5.2},
{"s":"h","t":0,"v":-1.0},{"s":"h","t":2,"v":-1.2},{"s":"h","t":4,"v":-1.2},{"s":"h","t":6,"v":-2.1},{"s":"h","t":8,"v":-2.5},{"s":"h","t":10,"v":-2.8},{"s":"h","t":12,"v":-2.0},{"s":"h","t":13,"v":-1.2},{"s":"h","t":14,"v":-1.0},{"s":"h","t":15,"v":-1.5},{"s":"h","t":16,"v":-3.4},{"s":"h","t":17,"v":-4.8},{"s":"h","t":18,"v":-2.8},{"s":"h","t":19,"v":0.0},{"s":"h","t":20,"v":2.0},{"s":"h","t":21,"v":3.6},{"s":"h","t":22,"v":5.0},{"s":"h","t":23,"v":5.8},{"s":"h","t":24,"v":5.0},{"s":"h","t":26,"v":3.8},{"s":"h","t":28,"v":3.6},{"s":"h","t":30,"v":3.9},{"s":"h","t":32,"v":3.6},{"s":"h","t":34,"v":2.6},{"s":"h","t":36,"v":1.6},{"s":"h","t":38,"v":0.8},{"s":"h","t":40,"v":0.2},{"s":"h","t":42,"v":-0.4},{"s":"h","t":44,"v":-1.0},{"s":"h","t":46,"v":-1.6},{"s":"h","t":48,"v":-2.0},{"s":"h","t":50,"v":-2.4},{"s":"h","t":52,"v":-5.0},{"s":"h","t":54,"v":-8.0},{"s":"h","t":56,"v":-11.0},{"s":"h","t":58,"v":-13.8},{"s":"h","t":60,"v":-16.5},{"s":"h","t":62,"v":-18.8},{"s":"h","t":64,"v":-21.8},{"s":"h","t":65,"v":-22.5},{"s":"h","t":66,"v":-16.0},{"s":"h","t":67,"v":-10.0},{"s":"h","t":68,"v":-7.5},{"s":"h","t":70,"v":-9.0},{"s":"h","t":72,"v":-7.0},{"s":"h","t":74,"v":-7.5},{"s":"h","t":76,"v":-6.5},{"s":"h","t":78,"v":-6.2},{"s":"h","t":80,"v":-6.0},
{"s":"i","t":0,"v":-1.6},{"s":"i","t":2,"v":-1.9},{"s":"i","t":4,"v":-1.8},{"s":"i","t":6,"v":-3.0},{"s":"i","t":8,"v":-3.5},{"s":"i","t":10,"v":-3.8},{"s":"i","t":12,"v":-2.8},{"s":"i","t":13,"v":-2.0},{"s":"i","t":14,"v":-1.6},{"s":"i","t":15,"v":-2.3},{"s":"i","t":16,"v":-5.0},{"s":"i","t":17,"v":-7.0},{"s":"i","t":18,"v":-5.0},{"s":"i","t":19,"v":-2.0},{"s":"i","t":20,"v":0.0},{"s":"i","t":21,"v":1.5},{"s":"i","t":22,"v":2.5},{"s":"i","t":23,"v":3.0},{"s":"i","t":24,"v":2.6},{"s":"i","t":26,"v":2.0},{"s":"i","t":28,"v":1.5},{"s":"i","t":30,"v":1.0},{"s":"i","t":32,"v":0.3},{"s":"i","t":34,"v":-0.3},{"s":"i","t":36,"v":-1.0},{"s":"i","t":38,"v":-1.8},{"s":"i","t":40,"v":-2.6},{"s":"i","t":42,"v":-3.0},{"s":"i","t":44,"v":-3.2},{"s":"i","t":46,"v":-3.0},{"s":"i","t":48,"v":-2.8},{"s":"i","t":50,"v":-2.6},{"s":"i","t":52,"v":-5.5},{"s":"i","t":54,"v":-8.8},{"s":"i","t":56,"v":-12.0},{"s":"i","t":58,"v":-15.2},{"s":"i","t":60,"v":-17.8},{"s":"i","t":62,"v":-20.0},{"s":"i","t":64,"v":-22.8},{"s":"i","t":65,"v":-23.5},{"s":"i","t":66,"v":-17.0},{"s":"i","t":67,"v":-11.0},{"s":"i","t":68,"v":-8.5},{"s":"i","t":70,"v":-10.0},{"s":"i","t":72,"v":-8.0},{"s":"i","t":74,"v":-8.5},{"s":"i","t":76,"v":-7.5},{"s":"i","t":78,"v":-7.2},{"s":"i","t":80,"v":-7.0},
{"s":"j","t":0,"v":-1.7},{"s":"j","t":2,"v":-2.0},{"s":"j","t":4,"v":-1.9},{"s":"j","t":6,"v":-3.2},{"s":"j","t":8,"v":-3.7},{"s":"j","t":10,"v":-4.0},{"s":"j","t":12,"v":-3.0},{"s":"j","t":13,"v":-2.2},{"s":"j","t":14,"v":-1.8},{"s":"j","t":15,"v":-2.5},{"s":"j","t":16,"v":-5.5},{"s":"j","t":17,"v":-7.6},{"s":"j","t":18,"v":-6.0},{"s":"j","t":19,"v":-3.5},{"s":"j","t":20,"v":-1.5},{"s":"j","t":21,"v":-0.6},{"s":"j","t":22,"v":-0.2},{"s":"j","t":23,"v":0.0},{"s":"j","t":24,"v":-0.2},{"s":"j","t":26,"v":-0.5},{"s":"j","t":28,"v":-0.8},{"s":"j","t":30,"v":-1.0},{"s":"j","t":32,"v":-1.4},{"s":"j","t":34,"v":-1.8},{"s":"j","t":36,"v":-2.3},{"s":"j","t":38,"v":-2.8},{"s":"j","t":40,"v":-3.2},{"s":"j","t":42,"v":-3.4},{"s":"j","t":44,"v":-3.6},{"s":"j","t":46,"v":-3.9},{"s":"j","t":48,"v":-4.2},{"s":"j","t":50,"v":-4.4},{"s":"j","t":52,"v":-8.5},{"s":"j","t":54,"v":-13.0},{"s":"j","t":56,"v":-17.5},{"s":"j","t":58,"v":-22.5},{"s":"j","t":60,"v":-26.5},{"s":"j","t":62,"v":-29.5},{"s":"j","t":64,"v":-33.0},{"s":"j","t":65,"v":-34.0},{"s":"j","t":66,"v":-24.0},{"s":"j","t":67,"v":-13.0},{"s":"j","t":68,"v":-9.0},{"s":"j","t":70,"v":-10.0},{"s":"j","t":72,"v":-8.5},{"s":"j","t":74,"v":-9.0},{"s":"j","t":76,"v":-8.0},{"s":"j","t":78,"v":-8.2},{"s":"j","t":80,"v":-8.0},
{"s":"k","t":0,"v":-1.2},{"s":"k","t":2,"v":-1.5},{"s":"k","t":4,"v":-1.5},{"s":"k","t":6,"v":-2.5},{"s":"k","t":8,"v":-3.0},{"s":"k","t":10,"v":-3.4},{"s":"k","t":12,"v":-2.4},{"s":"k","t":13,"v":-1.6},{"s":"k","t":14,"v":-1.3},{"s":"k","t":15,"v":-2.0},{"s":"k","t":16,"v":-4.5},{"s":"k","t":17,"v":-6.8},{"s":"k","t":18,"v":-5.8},{"s":"k","t":19,"v":-3.8},{"s":"k","t":20,"v":-2.2},{"s":"k","t":21,"v":-1.5},{"s":"k","t":22,"v":-1.1},{"s":"k","t":23,"v":-1.0},{"s":"k","t":24,"v":-1.2},{"s":"k","t":26,"v":-1.6},{"s":"k","t":28,"v":-2.0},{"s":"k","t":30,"v":-2.4},{"s":"k","t":32,"v":-2.8},{"s":"k","t":34,"v":-3.3},{"s":"k","t":36,"v":-3.8},{"s":"k","t":38,"v":-4.3},{"s":"k","t":40,"v":-4.8},{"s":"k","t":42,"v":-5.3},{"s":"k","t":44,"v":-5.8},{"s":"k","t":46,"v":-6.3},{"s":"k","t":48,"v":-6.7},{"s":"k","t":50,"v":-7.0},{"s":"k","t":52,"v":-11.5},{"s":"k","t":54,"v":-16.0},{"s":"k","t":56,"v":-20.5},{"s":"k","t":58,"v":-24.5},{"s":"k","t":60,"v":-27.5},{"s":"k","t":62,"v":-30.5},{"s":"k","t":64,"v":-34.5},{"s":"k","t":65,"v":-35.5},{"s":"k","t":66,"v":-25.0},{"s":"k","t":67,"v":-14.0},{"s":"k","t":68,"v":-9.5},{"s":"k","t":70,"v":-10.5},{"s":"k","t":72,"v":-9.0},{"s":"k","t":74,"v":-9.2},{"s":"k","t":76,"v":-8.5},{"s":"k","t":78,"v":-8.8},{"s":"k","t":80,"v":-8.5},
{"s":"l","t":0,"v":-1.0},{"s":"l","t":2,"v":-1.4},{"s":"l","t":4,"v":-1.3},{"s":"l","t":6,"v":-2.3},{"s":"l","t":8,"v":-2.8},{"s":"l","t":10,"v":-3.1},{"s":"l","t":12,"v":-2.2},{"s":"l","t":13,"v":-1.4},{"s":"l","t":14,"v":-1.2},{"s":"l","t":15,"v":-1.9},{"s":"l","t":16,"v":-4.2},{"s":"l","t":17,"v":-6.0},{"s":"l","t":18,"v":-5.5},{"s":"l","t":19,"v":-4.0},{"s":"l","t":20,"v":-2.8},{"s":"l","t":21,"v":-2.2},{"s":"l","t":22,"v":-1.9},{"s":"l","t":23,"v":-1.7},{"s":"l","t":24,"v":-2.0},{"s":"l","t":26,"v":-2.8},{"s":"l","t":28,"v":-3.6},{"s":"l","t":30,"v":-4.3},{"s":"l","t":32,"v":-5.0},{"s":"l","t":34,"v":-5.6},{"s":"l","t":36,"v":-6.2},{"s":"l","t":38,"v":-6.8},{"s":"l","t":40,"v":-7.4},{"s":"l","t":42,"v":-8.0},{"s":"l","t":44,"v":-8.8},{"s":"l","t":46,"v":-9.8},{"s":"l","t":48,"v":-10.8},{"s":"l","t":50,"v":-11.8},{"s":"l","t":52,"v":-14.5},{"s":"l","t":54,"v":-18.0},{"s":"l","t":56,"v":-21.5},{"s":"l","t":58,"v":-25.0},{"s":"l","t":60,"v":-28.0},{"s":"l","t":62,"v":-31.0},{"s":"l","t":64,"v":-34.2},{"s":"l","t":65,"v":-35.0},{"s":"l","t":66,"v":-26.0},{"s":"l","t":67,"v":-15.0},{"s":"l","t":68,"v":-10.0},{"s":"l","t":70,"v":-11.0},{"s":"l","t":72,"v":-9.5},{"s":"l","t":74,"v":-9.5},{"s":"l","t":76,"v":-9.0},{"s":"l","t":78,"v":-9.2},{"s":"l","t":80,"v":-9.0}
]
},
"hconcat":[
{"width":518,"height":400,
"title":"Intensity profile during Valsalva maneuver – 760 nm",
"layer":[
{"data":{"name":"L"},"mark":{"type":"line","strokeWidth":1.3,"clip":true},
"encoding":{
"x":{"field":"t","type":"quantitative","title":"Time (seconds)","scale":{"domain":[0,450],"nice":false,"zero":false},"axis":{"values":[0,100,200,300,400],"titlePadding":3}},
"y":{"field":"v","type":"quantitative","title":"Δ I [%]","scale":{"domain":[-40,10],"nice":false,"zero":false},"axis":{"values":[-40,-30,-20,-10,0,10],"titleFontWeight":"bold","titleFontSize":19,"titlePadding":7}},
"color":{"field":"s","type":"nominal","legend":null,"scale":{"domain":["z","a","b","c","d","e","f","g","h"],"range":["#8a8a8a","#3a3a3a","#444444","#333333","#2e2e2e","#6a6a6a","#8c8c8c","#999999","#a0a0a0"]}},
"detail":{"field":"s"}}},
{"data":{"name":"D"},"mark":{"type":"rule","color":"#555","strokeWidth":1,"strokeDash":[3,3]},
"encoding":{"x":{"field":"t","type":"quantitative","title":"Time (seconds)"}}}
]},
{"width":500,"height":383,
"title":"Intensity profile smoothed – 760 nm",
"layer":[
{"data":{"name":"R"},"mark":{"type":"line","strokeWidth":1.1,"clip":true},
"encoding":{
"x":{"field":"t","type":"quantitative","title":"Time (seconds)","scale":{"domain":[0,80],"nice":false,"zero":false},"axis":{"values":[0,20,40,60,80],"titlePadding":3}},
"y":{"field":"v","type":"quantitative","title":"Δ I [%]","scale":{"domain":[-40,10],"nice":false,"zero":false},"axis":{"values":[-40,-30,-20,-10,0,10],"titleFontWeight":"bold","titleFontSize":19,"titlePadding":7}},
"color":{"field":"s","type":"nominal","legend":null,"scale":{"domain":["z","a","b","c","d","e","f","g","h","i","j","k","l"],"range":["#7a7a7a","#6a6a6a","#707070","#666666","#747474","#7a7a7a","#6e6e6e","#777777","#808080","#6c6c6c","#858585","#7c7c7c","#888888"]}},
"detail":{"field":"s"}}},
{"data":{"name":"Tl"},"mark":{"type":"rule","color":"#222","strokeWidth":1},
"encoding":{"x":{"field":"t","type":"quantitative","title":"Time (seconds)"},"y":{"field":"v","type":"quantitative","title":"Δ I [%]"},"y2":{"field":"v2"}}},
{"data":{"name":"Ta"},"mark":{"type":"point","shape":"triangle-down","filled":true,"size":16,"color":"#222","opacity":1},
"encoding":{"x":{"field":"t","type":"quantitative","title":"Time (seconds)"},"y":{"field":"v","type":"quantitative","title":"Δ I [%]"}}},
{"data":{"name":"Tt"},"mark":{"type":"text","font":"Liberation Sans","fontSize":18,"color":"#222"},
"encoding":{"x":{"field":"t","type":"quantitative","title":"Time (seconds)"},"y":{"field":"v","type":"quantitative","title":"Δ I [%]"},"text":{"field":"lab"}}}
]}
]
}
